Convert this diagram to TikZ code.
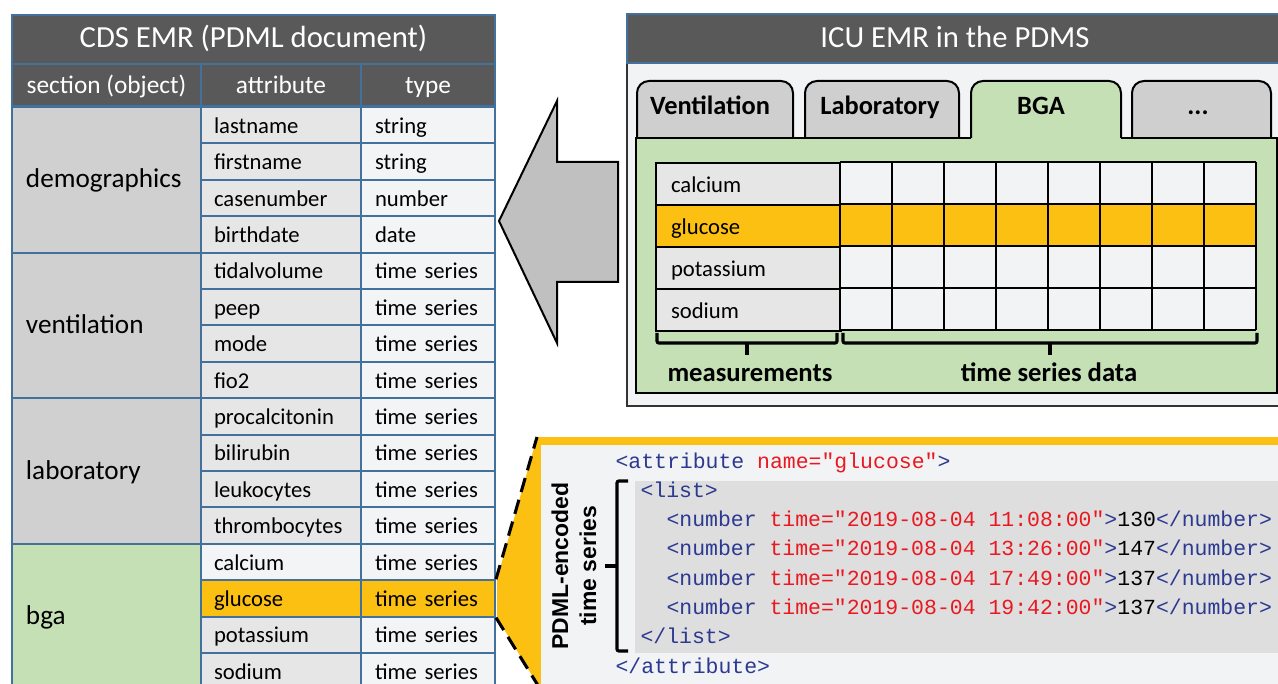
\documentclass[tikz,border=0pt]{standalone}
\usepackage{fontspec}
\setmainfont{Carlito}
\newfontfamily\codefont{Liberation Mono}
\newfontfamily\sidefont{Liberation Sans}
\usepackage{tikz}
\tikzset{every picture/.style={line width=0.75pt}}

\definecolor{bargray}{RGB}{89,89,89}
\definecolor{cellblue}{RGB}{65,113,156}
\definecolor{secgray}{RGB}{208,208,208}
\definecolor{attrgray}{RGB}{230,230,230}
\definecolor{typewhite}{RGB}{243,244,246}
\definecolor{bgagreen}{RGB}{197,224,180}
\definecolor{glucyellow}{RGB}{251,192,18}
\definecolor{tabgray}{RGB}{207,207,207}
\definecolor{panelwhite}{RGB}{242,243,245}
\definecolor{listgray}{RGB}{222,222,222}
\definecolor{arrowgray}{RGB}{192,192,192}
\definecolor{codeblue}{RGB}{43,57,144}
\definecolor{codered}{RGB}{234,24,32}

\newcommand{\xmltag}[1]{\textcolor{codeblue}{#1}}
\newcommand{\xmlattr}[1]{\textcolor{codered}{#1}}

\tikzset{
  headcell/.style={draw=cellblue, line width=1.5pt, fill=bargray, text=white, anchor=north west, inner sep=0pt, align=center, text height=1.22em, text depth=0pt},
  seccell/.style={draw=cellblue, line width=1.5pt, anchor=north west, inner xsep=10.5pt, inner ysep=0pt, minimum width=141.75pt, minimum height=109.2pt, text width=120.75pt, align=left, text height=1.22em, text depth=0pt, font=\fontsize{20.4}{24}\selectfont},
  attrcell/.style={draw=cellblue, line width=1.5pt, fill=attrgray, anchor=north west, inner xsep=9.75pt, inner ysep=0pt, minimum width=120pt, minimum height=27.3pt, text width=100.5pt, align=left, text height=1.22em, text depth=0pt, font=\fontsize{17}{20}\selectfont},
  typecell/.style={attrcell, fill=typewhite, inner xsep=10.5pt, minimum width=100.5pt, text width=79.5pt},
  meascell/.style={draw=black, line width=1.5pt, fill=attrgray, anchor=north west, inner xsep=11.25pt, inner ysep=0pt, minimum width=138.75pt, minimum height=31.5pt, text width=116.25pt, align=left, text height=1.22em, text depth=0pt, font=\fontsize{17}{20}\selectfont},
  tabshape/.style={draw=black, line width=1.5pt, fill=tabgray, rounded corners=9pt},
  tabtext/.style={inner sep=0pt, text height=1.22em, text depth=0pt, font=\bfseries\fontsize{19.8}{24}\selectfont},
  titletext/.style={inner sep=0pt, text=white, text height=1.22em, text depth=0pt, font=\fontsize{23}{28}\selectfont},
  bracketline/.style={line width=2.4pt, rounded corners=1.5pt},
  bracelabel/.style={inner sep=0pt, text height=1.22em, text depth=0pt, font=\bfseries\fontsize{20}{24}\selectfont},
  codeline/.style={anchor=west, inner sep=0pt, text height=0.85em, text depth=0pt, font=\codefont\fontsize{16.1}{19}\selectfont},
  sidetext/.style={rotate=90, align=center, inner sep=0pt, font=\sidefont\bfseries\fontsize{17.2}{21}\selectfont},
  dashline/.style={line width=2.3pt, dash pattern=on 11pt off 6pt}
}

\begin{document}
\begin{tikzpicture}[x=0.75pt,y=0.75pt,yscale=-1,xscale=1]
	\useasboundingbox (0,0) rectangle (1278,684);
	\fill [white] (0,0) rectangle (1278,684);
	
	%Table: CDS EMR
	\draw (11,14) node (cdstitle) [headcell, minimum width=362.25pt, minimum height=36.75pt, font=\fontsize{23}{28}\selectfont] {CDS EMR (PDML document)};
	\draw (11,63) node (hsection) [headcell, minimum width=141.75pt, minimum height=31.5pt, font=\fontsize{19}{23}\selectfont] {section (object)};
	\draw (200,63) node (hattribute) [headcell, minimum width=120pt, minimum height=31.5pt, font=\fontsize{19}{23}\selectfont] {attribute};
	\draw (360,63) node (htype) [headcell, minimum width=100.5pt, minimum height=31.5pt, font=\fontsize{19}{23}\selectfont] {type};
	
	%Shape: Sections
	\draw (11,106) node (demographics) [seccell, fill=secgray] {demographics};
	\draw (11,251.6) node (ventilation) [seccell, fill=secgray] {ventilation};
	\draw (11,397.2) node (laboratory) [seccell, fill=secgray] {laboratory};
	\draw (11,542.8) node (bga) [seccell, fill=bgagreen] {bga};
	
	%Shape: Attributes
	\draw (200,106) node (lastname) [attrcell] {lastname};
	\draw (200,142.4) node (firstname) [attrcell] {firstname};
	\draw (200,178.8) node (casenumber) [attrcell] {casenumber};
	\draw (200,215.2) node (birthdate) [attrcell] {birthdate};
	\draw (200,251.6) node (tidalvolume) [attrcell] {tidalvolume};
	\draw (200,288) node (peep) [attrcell] {peep};
	\draw (200,324.4) node (mode) [attrcell] {mode};
	\draw (200,360.8) node (fiotwo) [attrcell] {fio2};
	\draw (200,397.2) node (procalcitonin) [attrcell] {procalcitonin};
	\draw (200,433.6) node (bilirubin) [attrcell] {bilirubin};
	\draw (200,470) node (leukocytes) [attrcell] {leukocytes};
	\draw (200,506.4) node (thrombocytes) [attrcell] {thrombocytes};
	\draw (200,542.8) node (calcium) [attrcell, fill=typewhite] {calcium};
	\draw (200,579.2) node (glucose) [attrcell, fill=glucyellow] {glucose};
	\draw (200,615.6) node (potassium) [attrcell] {potassium};
	\draw (200,652) node (sodium) [attrcell] {sodium};
	
	%Shape: Types
	\draw (360,106) node (tlastname) [typecell] {string};
	\draw (360,142.4) node (tfirstname) [typecell] {string};
	\draw (360,178.8) node (tcasenumber) [typecell] {number};
	\draw (360,215.2) node (tbirthdate) [typecell] {date};
	\draw (360,251.6) node (ttidalvolume) [typecell] {time series};
	\draw (360,288) node (tpeep) [typecell] {time series};
	\draw (360,324.4) node (tmode) [typecell] {time series};
	\draw (360,360.8) node (tfiotwo) [typecell] {time series};
	\draw (360,397.2) node (tprocalcitonin) [typecell] {time series};
	\draw (360,433.6) node (tbilirubin) [typecell] {time series};
	\draw (360,470) node (tleukocytes) [typecell] {time series};
	\draw (360,506.4) node (tthrombocytes) [typecell] {time series};
	\draw (360,542.8) node (tcalcium) [typecell] {time series};
	\draw (360,579.2) node (tglucose) [typecell, fill=glucyellow] {time series};
	\draw (360,615.6) node (tpotassium) [typecell] {time series};
	\draw (360,652) node (tsodium) [typecell] {time series};
	
	%Shape: Arrow
	\draw [fill=arrowgray, line width=1.5] (499,221) -- (557,101) -- (557,162) -- (618,162) -- (618,282) -- (557,282) -- (557,343) -- cycle ;
	
	%Shape: ICU EMR panel
	\draw [draw=black!80, fill=panelwhite, line width=1.5] (627,14) rectangle (1290,406) ;
	\draw [draw=cellblue, fill=bargray, line width=1.5] (627,14) rectangle (1290,63) ;
	\draw (955,39) node (icutitle) [titletext] {ICU EMR in the PDMS};
	
	%Shape: Tabs
	\draw [tabshape] (637,138) -- (637,81) -- (793,81) -- (793,138) ;
	\draw [tabshape] (805,138) -- (805,81) -- (959,81) -- (959,138) ;
	\draw [tabshape] (1132,138) -- (1132,81) -- (1271,81) -- (1271,138) ;
	\fill [bgagreen] (636,138) rectangle (1277,393) ;
	\fill [bgagreen, rounded corners=9pt] (971,150) -- (971,81) -- (1121,81) -- (1121,150) -- cycle ;
	\draw [line width=1.5, rounded corners=9pt] (971,138) -- (971,81) -- (1121,81) -- (1121,138) ;
	\draw [line width=1.5] (971,138) -- (636,138) -- (636,393) -- (1277,393) -- (1277,138) -- (1121,138) ;
	
	% Text Node
	\draw (710,106) node (tabvent) [tabtext] {Ventilation};
	\draw (880,106) node (tablab) [tabtext] {Laboratory};
	\draw (1041,106) node (tabbga) [tabtext] {BGA};
	\draw (1198,106) node (tabmore) [tabtext] {...};
	
	%Shape: Measurement grid
	\draw (655,162) node (mcalcium) [meascell] {calcium};
	\draw (655,204) node (mglucose) [meascell, fill=glucyellow] {glucose};
	\draw (655,246) node (mpotassium) [meascell] {potassium};
	\draw (655,288) node (msodium) [meascell] {sodium};
	\fill [panelwhite] (840,162) rectangle (1256,330) ;
	\fill [glucyellow] (840,204) rectangle (1256,246) ;
	\draw [line width=1.5, shift={(840,162)}] (0,0) grid [xstep=52, ystep=42] (416,168) ;
	
	%Shape: Braces
	\draw [bracketline] (657,333) -- (657,343) -- (837,343) -- (837,333) ;
	\draw [bracketline] (747,343) -- (747,355) ;
	\draw [bracketline] (843,333) -- (843,343) -- (1257,343) -- (1257,333) ;
	\draw [bracketline] (1050,343) -- (1050,355) ;
	\draw (750,373) node (measlabel) [bracelabel] {measurements};
	\draw (1049,373) node (serieslabel) [bracelabel] {time series data};
	
	%Shape: PDML code panel
	\coordinate (wedgetop) at (537,437);
	\coordinate (wedgebot) at (547,700);
	\fill [glucyellow] ([xshift=0.75pt]tglucose.north east) -- (wedgetop) -- (1290,437) -- (1290,700) -- (wedgebot) -- ([xshift=0.75pt]tglucose.south east) -- cycle ;
	\fill [panelwhite] (541,445) rectangle (1290,700) ;
	\fill [listgray] (635,481) rectangle (1290,653) ;
	\draw [dashline] (tglucose.north east) -- (wedgetop) ;
	\draw [dashline] (tglucose.south east) -- (wedgebot) ;
	
	%Shape: Bracket
	\draw [bracketline] (628,481) -- (617,481) -- (617,651) -- (628,651) ;
	\draw [bracketline] (617,566) -- (605,566) ;
	\draw (574,566) node (pdmllabel) [sidetext] {PDML-encoded\\time series};
	
	% Text Node
	\draw (615,463) node (attropen) [codeline] {\xmltag{<attribute} \xmlattr{name="glucose"}\xmltag{>}};
	\draw (640,492) node (listopen) [codeline] {\xmltag{<list>}};
	\draw (666,521) node (valueone) [codeline] {\xmltag{<number} \xmlattr{time="2019-08-04 11:08:00"}\xmltag{>}130\xmltag{</number>}};
	\draw (666,550) node (valuetwo) [codeline] {\xmltag{<number} \xmlattr{time="2019-08-04 13:26:00"}\xmltag{>}147\xmltag{</number>}};
	\draw (666,580) node (valuethree) [codeline] {\xmltag{<number} \xmlattr{time="2019-08-04 17:49:00"}\xmltag{>}137\xmltag{</number>}};
	\draw (666,609) node (valuefour) [codeline] {\xmltag{<number} \xmlattr{time="2019-08-04 19:42:00"}\xmltag{>}137\xmltag{</number>}};
	\draw (640,638) node (listclose) [codeline] {\xmltag{</list>}};
	\draw (615,668) node (attrclose) [codeline] {\xmltag{</attribute>}};
	
\end{tikzpicture}
\end{document}
